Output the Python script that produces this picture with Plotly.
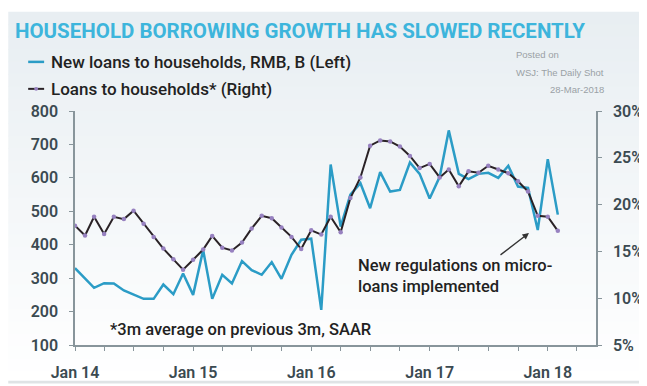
import plotly.graph_objects as go
import pandas as pd

# ---- data ----
months = pd.date_range("2014-01-01", periods=50, freq="MS")
new_loans = [330, 300, 271, 285, 284, 263, 250, 238, 238, 281, 252, 314,
             250, 384, 238, 310, 284, 351, 324, 310, 348, 298, 370, 415,
             418, 205, 640, 454, 550, 584, 509, 617, 559, 564, 646, 612,
             538, 603, 742, 612, 596, 612, 615, 600, 636, 574, 570, 444,
             656, 490]
loans_growth = [17.75, 16.7, 18.7, 16.85, 18.7, 18.45, 19.35, 17.95, 16.55, 15.3, 14.15, 13.05,
                14.1, 15.2, 16.65, 15.4, 15.1, 15.95, 17.45, 18.8, 18.55, 17.55, 16.55, 15.25,
                17.25, 16.8, 18.7, 17.05, 20.7, 22.9, 26.3, 26.85, 26.75, 26.2, 25.2, 23.9,
                24.35, 22.9, 23.75, 21.95, 23.55, 23.4, 24.15, 23.75, 23.35, 22.5, 21.4, 18.8,
                18.7, 17.2]
left_ticks = [100, 200, 300, 400, 500, 600, 700, 800]
right_ticks = [5, 10, 15, 20, 25, 30]
right_labels = ["5%", "10%", "15%", "20%", "25%", "30%"]

W, H = 647, 386
ML, MR, MT, MB = 67, 57, 103, 40
PW, PH = W - ML - MR, H - MT - MB

def px(x):
    return (x - ML) / PW

def py(y):
    return (H - MB - y) / PH

BLUE = "#2b9cc6"
DARK = "#2a2226"
PURPLE = "#9781c0"
AXIS = "#88959b"
TICKTXT = "#3b4a51"
FONT = "Roboto"

fig = go.Figure()
fig.add_trace(go.Scatter(x=months, y=new_loans, mode="lines",
                         line=dict(color=BLUE, width=2.5), name="New loans", yaxis="y"))
fig.add_trace(go.Scatter(x=months, y=loans_growth, mode="lines+markers",
                         line=dict(color=DARK, width=2),
                         marker=dict(color=PURPLE, size=4.5),
                         name="Loans", yaxis="y2"))

# background gradient bands
shapes = []
n = 30
top = (232, 238, 242)
bot = (255, 255, 255)
for i in range(n):
    t = i / (n - 1)
    c = tuple(int(round(top[k] + (bot[k] - top[k]) * t)) for k in range(3))
    y0 = H * i / n
    y1 = H * (i + 1) / n + 1
    shapes.append(dict(type="rect", xref="paper", yref="paper", layer="below",
                       x0=px(0), x1=px(W), y0=py(y1), y1=py(y0),
                       fillcolor="rgb(%d,%d,%d)" % c, line=dict(width=0)))
# legend samples
shapes.append(dict(type="line", xref="paper", yref="paper", x0=px(20), x1=px(36),
                   y0=py(52), y1=py(52), line=dict(color=BLUE, width=2.5)))
shapes.append(dict(type="line", xref="paper", yref="paper", x0=px(20), x1=px(36),
                   y0=py(80), y1=py(80), line=dict(color=DARK, width=2)))
shapes.append(dict(type="circle", xref="paper", yref="paper", x0=px(26), x1=px(30),
                   y0=py(82), y1=py(78), fillcolor=PURPLE, line=dict(width=0)))
# bottom border
shapes.append(dict(type="rect", xref="paper", yref="paper", x0=px(0), x1=px(W),
                   y0=py(386), y1=py(383), fillcolor="#dfe3e5", line=dict(width=0)))

TXT = dict(family=FONT, size=17, color="#222222", weight=500)
ann = []
ann.append(dict(text="<b>HOUSEHOLD BORROWING GROWTH HAS SLOWED RECENTLY</b>",
                x=px(5), y=py(20), xref="paper", yref="paper", xanchor="left", yanchor="middle",
                showarrow=False, font=dict(family=FONT, size=20.5, color="#3db5dc")))
ann.append(dict(text="New loans to households, RMB, B (Left)", x=px(41), y=py(52),
                xref="paper", yref="paper", xanchor="left", yanchor="middle", showarrow=False,
                font=TXT))
ann.append(dict(text="Loans to households* (Right)", x=px(41), y=py(80),
                xref="paper", yref="paper", xanchor="left", yanchor="middle", showarrow=False,
                font=TXT))
SMALL = dict(family="Liberation Sans", size=9.5, color="#9aa1a5")
ann.append(dict(text="Posted on", x=px(508), y=py(44), xref="paper", yref="paper",
                xanchor="left", yanchor="middle", showarrow=False, font=SMALL))
ann.append(dict(text="WSJ: The Daily Shot", x=px(600), y=py(63), xref="paper", yref="paper",
                xanchor="right", yanchor="middle", showarrow=False, font=SMALL))
ann.append(dict(text="28-Mar-2018", x=px(600), y=py(81), xref="paper", yref="paper",
                xanchor="right", yanchor="middle", showarrow=False, font=SMALL))
ann.append(dict(text="*3m average on previous 3m, SAAR", x=px(100), y=py(330),
                xref="paper", yref="paper", xanchor="left", yanchor="middle", showarrow=False,
                font=dict(TXT, size=16.5)))
ann.append(dict(text="New regulations on micro-<br>loans implemented", x=px(349), y=py(252),
                xref="paper", yref="paper", xanchor="left", yanchor="top", align="left",
                showarrow=False, font=dict(TXT, size=16.5)))
ann.append(dict(text="", x="2017-11-04", y=435, xref="x", yref="y", showarrow=True,
                ax=-30, ay=23, arrowhead=2, arrowsize=1, arrowwidth=1.3, arrowcolor="#333333"))

axis_common = dict(showline=True, linecolor=AXIS, linewidth=1.5, ticks="outside",
                   ticklen=4, tickcolor=AXIS, tickwidth=1, showgrid=False, zeroline=False,
                   tickfont=dict(family=FONT, size=16, color=TICKTXT, weight=600))

fig.update_layout(
    width=W, height=H, margin=dict(l=ML, r=MR, t=MT, b=MB),
    paper_bgcolor="white", plot_bgcolor="rgba(0,0,0,0)",
    showlegend=False, shapes=shapes, annotations=ann,
    xaxis=dict(type="date", range=["2014-01-01", "2018-05-30"], dtick="M12",
               tick0="2014-01-01", tickformat="%b %y", ticklabelstandoff=8,
               minor=dict(dtick="M3", ticks="outside", ticklen=4, tickcolor=AXIS),
               **axis_common),
    yaxis=dict(range=[100, 800], tickvals=left_ticks, ticklabelstandoff=8, **axis_common),
    yaxis2=dict(range=[5, 30], tickvals=right_ticks, ticktext=right_labels, overlaying="y",
                side="right", ticklabelstandoff=8, **axis_common),
)

fig.write_html("out.html")
